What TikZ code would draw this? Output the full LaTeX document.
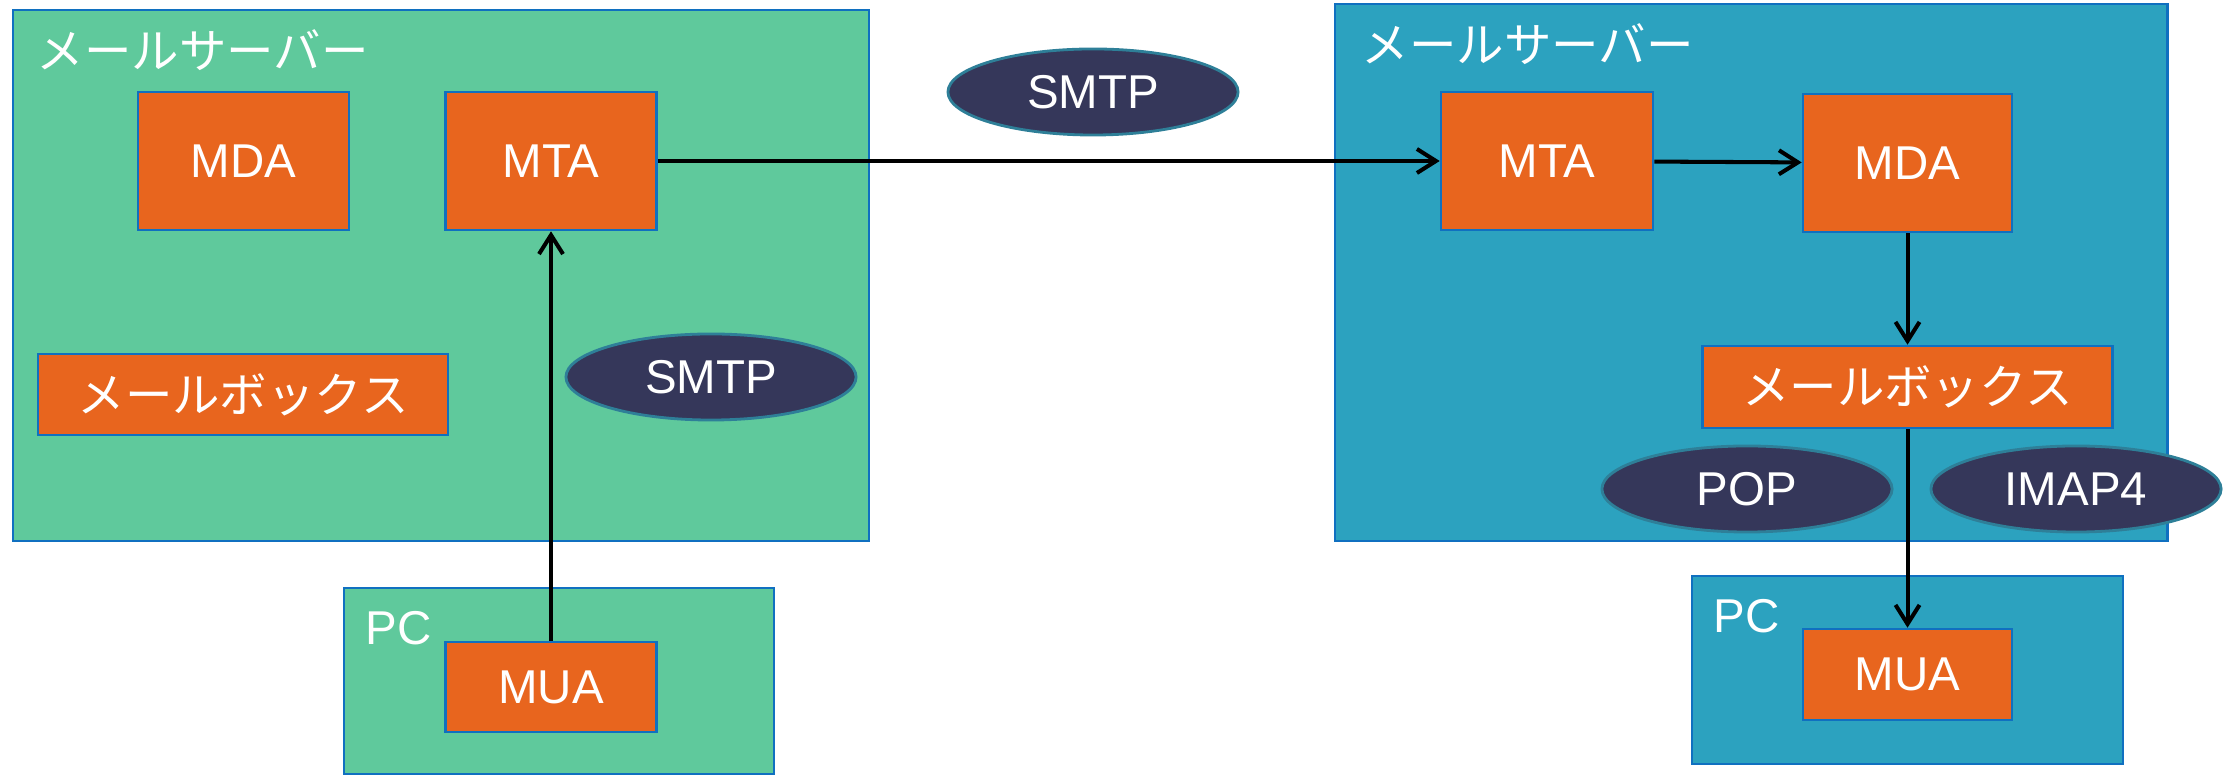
\documentclass[tikz,border=0pt]{standalone}
\usepackage{fontspec}
\setmainfont{Liberation Sans}
\newfontfamily\jpfont{Noto Sans CJK JP}
\usetikzlibrary{shapes.geometric,arrows.meta}
\definecolor{srvgreen}{HTML}{5FC99C}
\definecolor{srvblue}{HTML}{2CA2BF}
\definecolor{agentorange}{HTML}{E8651E}
\definecolor{protonavy}{HTML}{35375A}
\definecolor{edgeblue}{HTML}{1070C0}
\definecolor{edgeteal}{HTML}{2E7F98}
\begin{document}
\begin{tikzpicture}[x=0.01cm,y=-0.01cm,
  every node/.style={font=\fontsize{13.5}{16}\selectfont,text=white},
  frame/.style={draw=edgeblue,line width=0.7pt,inner sep=0pt},
  agent/.style={draw=edgeblue,fill=agentorange,line width=0.7pt,inner sep=0pt},
  proto/.style={ellipse,draw=edgeteal,fill=protonavy,line width=0.8pt,inner sep=0pt,minimum width=2.9cm,minimum height=0.86cm},
  flow/.style={line width=1.15pt,-{Straight Barb[length=1.9mm,width=2.4mm]}}]
\useasboundingbox (0,0) rectangle (2231,777);
% sending side
\node[frame,fill=srvgreen,minimum width=8.56cm,minimum height=5.31cm] (srvL) at (441,275.5) {};
\node[anchor=west,inner sep=0pt] (ttlL) at (36,50) {\jpfont メールサーバー};
\node[agent,minimum width=2.11cm,minimum height=1.38cm] (mdaL) at (243.5,161) {MDA};
\node[agent,minimum width=2.11cm,minimum height=1.38cm] (mtaL) at (551,161) {MTA};
\node[agent,minimum width=4.10cm,minimum height=0.81cm] (boxL) at (243,394.5) {\jpfont メールボックス};
\node[proto] (smtpB) at (711,377) {SMTP};
\node[frame,fill=srvgreen,minimum width=4.30cm,minimum height=1.86cm] (pcL) at (559,681) {};
\node[anchor=west,inner sep=0pt] (pcLlbl) at (365,628) {PC};
\node[agent,minimum width=2.11cm,minimum height=0.90cm] (muaL) at (551,687) {MUA};
% receiving side
\node[frame,fill=srvblue,minimum width=8.32cm,minimum height=5.37cm] (srvR) at (1751,272.5) {};
\node[anchor=west,inner sep=0pt] (ttlR) at (1361,44) {\jpfont メールサーバー};
\node[agent,minimum width=2.12cm,minimum height=1.38cm] (mtaR) at (1547,161) {MTA};
\node[agent,minimum width=2.09cm,minimum height=1.38cm] (mdaR) at (1907.5,163) {MDA};
\node[agent,minimum width=4.10cm,minimum height=0.82cm] (boxR) at (1907.5,387) {\jpfont メールボックス};
\node[proto] (pop) at (1747,489) {POP};
\node[proto] (imap) at (2076,489) {IMAP4};
\node[frame,fill=srvblue,minimum width=4.31cm,minimum height=1.88cm] (pcR) at (1907.5,670) {};
\node[anchor=west,inner sep=0pt] (pcRlbl) at (1713,616) {PC};
\node[agent,minimum width=2.09cm,minimum height=0.91cm] (muaR) at (1907.5,674.5) {MUA};
\node[proto] (smtpA) at (1093,92) {SMTP};
% mail flow
\draw[flow] (muaL)--(mtaL);
\draw[flow] (mtaL)--(mtaR);
\draw[flow] (mtaR)--(mdaR);
\draw[flow] (mdaR)--(boxR);
\draw[flow] (boxR)--(muaR);
\end{tikzpicture}
\end{document}
